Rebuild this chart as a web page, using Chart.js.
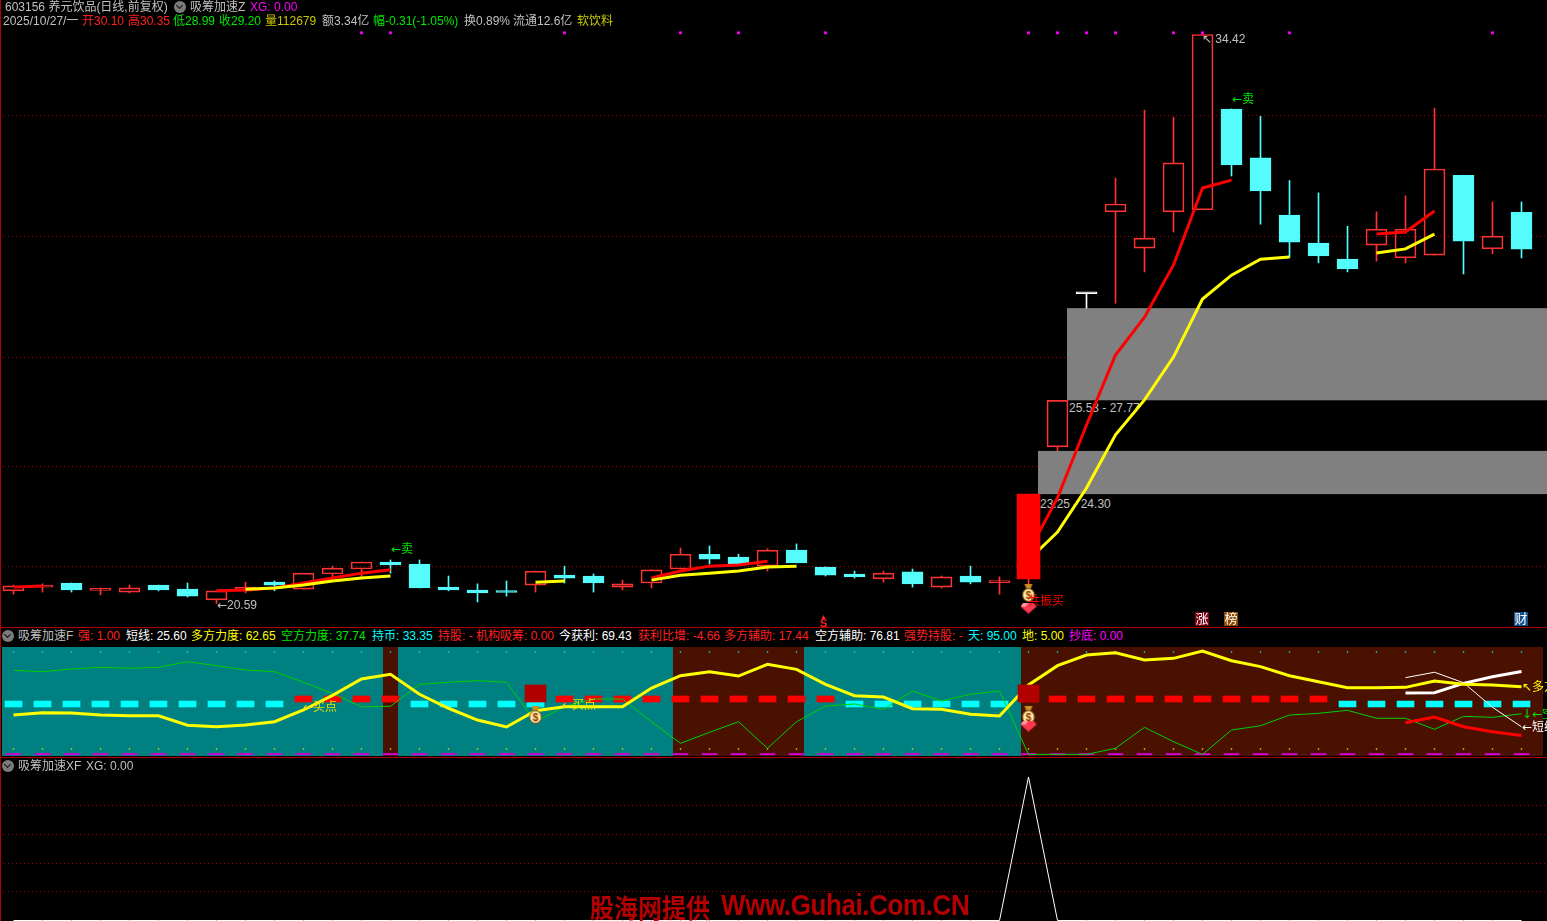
<!DOCTYPE html>
<html>
<head>
<meta charset="utf-8">
<title>603156 养元饮品</title>
<script src="https://cdn.jsdelivr.net/npm/chart.js@4"></script>
<style>
@font-face { font-family: "ArrowGlyphs"; src: local("DejaVu Sans"); unicode-range: U+2190-21FF; }
html, body { margin: 0; padding: 0; background: #000; width: 1547px; height: 921px; overflow: hidden; }
body { position: relative; font: 12px "ArrowGlyphs", "Liberation Sans", "Noto Sans CJK SC", sans-serif; }
canvas { position: absolute; left: 0; z-index: 1; }
.lbl { position: absolute; white-space: nowrap; transform: translateY(-50%); line-height: 14px; }
.under { z-index: 0; }
.over { z-index: 2; }
.rule { position: absolute; background: #b00000; z-index: 3; }
.knob { position: absolute; width: 12px; height: 12px; border-radius: 50%; background: #7c7c7c; z-index: 2; }
.knob::after { content: ""; position: absolute; left: 3px; top: 2px; width: 4px; height: 4px; border-right: 1.5px solid #111; border-bottom: 1.5px solid #111; transform: rotate(45deg); }
.tag { position: absolute; width: 14px; height: 14px; top: 612px; color: #fff; font-size: 13px; line-height: 14px; text-align: center; z-index: 2; }
.mark { position: absolute; left: 590px; top: 906px; transform: translateY(-50%) scaleY(1.1); z-index: 3; color: #b40000; font-weight: 700; white-space: nowrap; }
</style>
</head>
<body>
<canvas id="priceChart" width="1547" height="627" style="top:0"></canvas>
<canvas id="forceChart" width="1547" height="109" style="top:647px"></canvas>
<canvas id="xfChart" width="1547" height="164" style="top:757px"></canvas>
<script>
const _ = null;

// K lines
const opens = [20.90,20.99,21.09,20.91,20.87,21.04,20.94,20.68,20.90,21.11,20.94,21.31,21.43,21.60,21.55,20.99,20.92,20.88,
    21.04,21.28,21.26,20.99,21.09,21.43,21.79,21.72,21.50,21.89,21.48,21.31,21.19,21.36,20.99,21.26,21.10,21.19,
    24.40,28.12,30.11,29.23,30.11,30.16,32.61,31.42,30.03,29.35,28.96,29.30,28.99,29.06,31.00,29.21,30.10];
const highs = [21.04,21.07,21.09,20.97,21.04,21.04,21.09,20.90,21.11,21.14,21.33,21.50,21.60,21.65,21.65,21.26,21.07,21.14,
    21.38,21.50,21.31,21.16,21.41,21.94,21.99,21.79,21.92,22.04,21.48,21.38,21.38,21.43,21.26,21.50,21.24,23.25,
    25.53,28.14,30.93,32.58,32.41,34.42,32.61,32.43,30.87,30.57,29.76,30.11,30.50,32.63,31.00,30.35,30.35];
const lows = [20.82,20.87,20.87,20.80,20.85,20.90,20.75,20.59,20.85,20.90,20.94,21.16,21.24,21.33,20.97,20.90,20.63,20.77,
    20.87,21.09,20.87,20.92,20.97,21.43,21.55,21.53,21.38,21.58,21.26,21.21,21.11,20.99,20.97,21.07,20.82,21.04,
    24.30,27.77,27.89,28.65,29.62,30.16,30.98,29.81,29.00,28.87,28.65,28.91,28.87,29.06,28.60,29.09,28.99];
const closes = [21.02,21.02,20.92,20.93,20.97,20.92,20.77,20.90,20.99,21.04,21.33,21.45,21.60,21.53,20.97,20.92,20.85,20.86,
    21.38,21.21,21.09,21.07,21.41,21.79,21.67,21.53,21.89,21.58,21.28,21.24,21.33,21.07,21.24,21.11,21.12,23.25,
    25.53,28.14,30.30,29.47,31.30,34.42,31.25,30.62,29.37,29.04,28.72,29.69,29.69,31.15,29.40,29.52,29.20];
const solidDays = [35];
const whiteDays = [37];

const redMA = [20.99,21.02,_,_,_,_,_,20.90,20.92,20.97,21.09,21.21,21.33,21.41,_,_,_,_,_,_,_,_,
    21.21,21.38,21.50,21.53,21.62,_,_,_,_,_,_,_,_,
    21.84,23.16,24.93,26.63,27.55,28.82,30.69,30.88,_,_,_,_,29.57,29.62,30.13,_,_,_];
const yellowMA = [_,_,_,_,_,_,_,_,20.94,20.97,21.04,21.14,21.21,21.26,_,_,_,_,21.11,21.14,_,_,
    21.16,21.28,21.33,21.38,21.48,21.50,_,_,_,_,_,_,_,
    21.65,22.33,23.40,24.69,25.54,26.58,27.99,28.57,28.96,29.01,_,_,29.11,29.21,29.57,_,_,_];

const gridPrices = [32.44,29.50,26.56,23.91,21.48];
const bandFrom = [35,36];
const bandLow = [23.25,25.53];
const bandHigh = [24.30,27.77];
const markDays = [12,13,19,23,25,28,35,36,37,38,40,41,44,51];
const markPrice = 34.46;
const bagDays = [35];
const bagPrice = 20.85;
const gemPrice = 20.48;

// 吸筹加速F
const longForce = [36.5,38.7,38.4,36.5,35.9,35.9,27,25.7,27.3,30.3,41.2,54.8,69.9,74.3,55.8,42.8,31.9,25.4,40.5,44.2,44.2,44.2,
    61.6,73,76.7,72.7,83.6,78.9,65,54.5,53.2,42.4,41.8,37.2,35.6,
    64.4,82.3,92.2,94.3,87.6,89.1,95.9,86.9,81.4,73,67.4,61.9,61.9,62.2,68.1,65,64.4,62.65];
const shortForce = [78,76.7,79.2,80.8,79.9,80.8,86,82.3,78.3,76.7,66.9,56.7,44.2,44.6,65,66.9,68.4,66.9,30.3,44.2,51.4,51.4,
    30.3,10.3,20.5,30.3,5.7,30.3,44.9,46.8,41.8,58.8,49.5,55.8,58.8,
    0,0,0,5.7,25.1,11.8,0,22.6,26.6,36.5,38.1,40.9,33.5,33.5,23.3,35.3,34.4,37.74];
const quickLine = [_,_,_,_,_,_,_,_,_,_,_,_,_,_,_,_,_,_,_,_,_,_,_,_,_,_,_,_,_,_,_,_,_,_,_,_,_,_,_,_,_,_,_,_,_,_,_,_,71.2,76.2,66.5,43.7,25.6];
const shortHelp = [_,_,_,_,_,_,_,_,_,_,_,_,_,_,_,_,_,_,_,_,_,_,_,_,_,_,_,_,_,_,_,_,_,_,_,_,_,_,_,_,_,_,_,_,_,_,_,_,57,57.2,65.9,72.1,76.81];
const longHelp = [_,_,_,_,_,_,_,_,_,_,_,_,_,_,_,_,_,_,_,_,_,_,_,_,_,_,_,_,_,_,_,_,_,_,_,_,_,_,_,_,_,_,_,_,_,_,_,_,29.4,34.7,25.7,21.1,17.44];
const dashState = 'ccccccccccrrrrcccccrrrrrrrrrrccccccrrrrrrrrrrrccccccc'.split('');
const redDash = [48.6,54.2];
const cyanDash = [44,49.5];
const holdDays = [18,35];
const holdRange = [48.6,64.4];
const brownFrom = [12.74,22.74,34.74];
const brownTo = [13.26,27.26,52.74];
const skyLevel = 95;
const groundLevel = 5;
const floorLevel = [-0.4,0.9];
const forceBagDays = [18,35];
const forceBagLevel = 36.5;
const forceGemDays = [35];
const forceGemLevel = 26.3;

// 吸筹加速XF
const xfValues = [0,0,0,0,0,0,0,0,0,0,0,0,0,0,0,0,0,0,0,0,0,0,0,0,0,0,0,0,0,0,0,0,0,0,0,1,0,0,0,0,0,0,0,0,0,0,0,0,0,0,0,0,0];
const xfGrid = [0.2,0.4,0.6,0.8];

// header texts: x, text, colour
const GRAY = '#c0c0c0', RED = '#ff2020', GREEN = '#00e800', YELLOW = '#ffff00', OLIVE = '#c8c800', CYAN = '#00ffff', WHITE = '#ffffff', MAGENTA = '#ff00ff';
const row1 = [[5,'603156 养元饮品(日线,前复权)',GRAY],[190,'吸筹加速Z',GRAY],[250,'XG: 0.00',MAGENTA]];
const row2 = [[3,'2025/10/27/一',GRAY],[82,'开30.10',RED],[128,'高30.35',RED],[173,'低28.99',GREEN],[219,'收29.20',GREEN],
    [265,'量112679',OLIVE],[322,'额3.34亿',GRAY],[373,'幅-0.31(-1.05%)',GREEN],[464,'换0.89%',GRAY],[513,'流通12.6亿',GRAY],[577,'软饮料',OLIVE]];
const row3 = [[18,'吸筹加速F',GRAY],[78,'强: 1.00',RED],[126,'短线: 25.60',WHITE],[191,'多方力度: 62.65',YELLOW],[281,'空方力度: 37.74',GREEN],
    [372,'持币: 33.35',CYAN],[438,'持股: -',RED],[476,'机构吸筹: 0.00',RED],[559,'今获利: 69.43',WHITE],[638,'获利比增: -4.66',RED],
    [724,'多方辅助: 17.44',RED],[815,'空方辅助: 76.81',WHITE],[904,'强势持股: -',RED],[968,'天: 95.00',CYAN],[1022,'地: 5.00',YELLOW],[1069,'抄底: 0.00',MAGENTA]];
const row4 = [[18,'吸筹加速XF',GRAY],[86,'XG: 0.00',GRAY]];

function addText(x, y, str, color, layer, extra) {
    const el = document.createElement('div');
    el.className = 'lbl ' + (layer || 'over');
    el.style.left = x + 'px';
    el.style.top = y + 'px';
    el.style.color = color;
    if (extra) el.style.cssText += extra;
    el.textContent = str;
    document.body.appendChild(el);
}
function addRule(x, y, w, h) {
    const el = document.createElement('div');
    el.className = 'rule';
    el.style.cssText = `left:${x}px;top:${y}px;width:${w}px;height:${h}px`;
    document.body.appendChild(el);
}
function addKnob(x, y) {
    const el = document.createElement('div');
    el.className = 'knob';
    el.style.left = x + 'px';
    el.style.top = y + 'px';
    document.body.appendChild(el);
}
function addTag(x, str, bg) {
    const el = document.createElement('div');
    el.className = 'tag';
    el.style.left = x + 'px';
    el.style.background = bg;
    el.textContent = str;
    document.body.appendChild(el);
}

row1.forEach(r => addText(r[0], 7, r[1], r[2]));
row2.forEach(r => addText(r[0], 21, r[1], r[2]));
row3.forEach(r => addText(r[0], 636, r[1], r[2]));
row4.forEach(r => addText(r[0], 766, r[1], r[2]));
addKnob(174, 1); addKnob(2, 630); addKnob(2, 760);
addRule(0, 0, 1, 921); addRule(0, 627, 1547, 1); addRule(0, 757, 1547, 1);

addText(391, 549, '←卖', GREEN);
addText(1232, 99, '←卖', GREEN);
addText(217, 605, '←20.59', GRAY);
addText(1202, 39, '↖ 34.42', GRAY);
addText(1069, 408, '25.53 - 27.77', GRAY, 'under');
addText(1040, 504, '23.25 - 24.30', GRAY, 'under');
addText(1028, 601, '共振买', '#ff0000');
addText(820, 617, '▲', RED, 'over', 'font-size:7px');
addText(820, 623, 'S', RED, 'over', 'font-weight:700;font-size:11px');
addTag(1195, '涨', '#7a0012');
addTag(1224, '榜', '#8a4800');
addTag(1514, '财', '#14508c');

addText(303, 707, '←买点', YELLOW, 'over', 'color:#e8e000');
addText(562, 705, '←买点', YELLOW, 'over', 'color:#e8e000');
addText(1522, 687, '↖多方力度', YELLOW);
addText(1522, 714, '↓←空方力度', GREEN);
addText(1522, 727, '←短线', WHITE);

const wm1 = document.createElement('div');
wm1.className = 'mark';
wm1.style.cssText = 'font-family:"Noto Sans CJK SC";font-size:24px;';
wm1.textContent = '股海网提供';
document.body.appendChild(wm1);
const wm2 = document.createElement('div');
wm2.className = 'mark';
wm2.style.cssText = 'left:721px;font-family:"Liberation Sans";font-size:26px;letter-spacing:-0.4px;';
wm2.textContent = 'Www.Guhai.Com.CN';
document.body.appendChild(wm2);

// small bitmap markers used as point styles
function bagIcon() {
    const c = document.createElement('canvas');
    c.width = 14; c.height = 18;
    const g = c.getContext('2d');
    g.fillStyle = '#c89020'; g.beginPath(); g.moveTo(3, 0); g.lineTo(11, 0); g.lineTo(9, 5); g.lineTo(5, 5); g.fill();
    g.fillStyle = '#ffe9a0'; g.strokeStyle = '#6a4400';
    g.beginPath(); g.ellipse(7, 11, 6, 6.4, 0, 0, Math.PI * 2); g.fill(); g.stroke();
    g.fillStyle = '#903000'; g.font = 'bold 10px "Liberation Sans"'; g.textAlign = 'center'; g.fillText('$', 7, 15);
    return c;
}
function gemIcon() {
    const c = document.createElement('canvas');
    c.width = 16; c.height = 11;
    const g = c.getContext('2d');
    g.fillStyle = '#ff3850';
    g.beginPath(); g.moveTo(3, 0); g.lineTo(13, 0); g.lineTo(16, 4); g.lineTo(8, 11); g.lineTo(0, 4); g.closePath(); g.fill();
    g.fillStyle = '#ff9aa8'; g.beginPath(); g.moveTo(3, 0); g.lineTo(8, 0); g.lineTo(5, 4); g.lineTo(0, 4); g.closePath(); g.fill();
    return c;
}
const BAG = bagIcon(), GEM = gemIcon();

const DAY_W = 29, DAY0 = 13.5, PANE_W = 1547;
const xScale = { type: 'linear', display: false, offset: false, min: -DAY0 / DAY_W, max: (PANE_W - DAY0) / DAY_W };
const gridLine = { color: '#a80000', lineWidth: 1, drawTicks: false, offset: false };
function series(arr) { return arr.map((v, i) => ({ x: i, y: v })); }
function atDays(days, v) { return days.map(d => ({ x: d, y: v })); }
function fixedTicks(list) {
    return function (scale) { scale.ticks = list.map(v => ({ value: v })); };
}
function yAxis(min, max, list) {
    if (!list) return { display: false, min, max };
    return {
        min, max,
        afterBuildTicks: fixedTicks(list),
        afterFit(scale) { scale.width = 0; },
        ticks: { display: false },
        border: { display: false, dash: [1, 3] },
        grid: gridLine
    };
}
const baseOptions = {
    responsive: false,
    animation: false,
    devicePixelRatio: 1,
    layout: { padding: 0, autoPadding: false },
    plugins: { legend: { display: false }, tooltip: { enabled: false } }
};
function thickLine(arr, color, width, order) {
    return { type: 'line', data: series(arr), borderColor: color, borderWidth: width, pointRadius: 0, tension: 0, spanGaps: false, clip: false, order };
}
function barSet(data, thick, color, border, order, extra) {
    return Object.assign({ type: 'bar', data, barThickness: thick, backgroundColor: color, borderColor: border, borderWidth: 0, borderSkipped: false, grouped: false, order }, extra || {});
}

// bands sit under the candles and above the grid
const bandPlugin = {
    id: 'bands',
    beforeDatasetsDraw(chart) {
        const { ctx, scales: { x, y }, width } = chart;
        ctx.save();
        ctx.fillStyle = '#808080';
        bandFrom.forEach((d, i) => {
            const left = Math.round(x.getPixelForValue(d)) + 9;
            const top = y.getPixelForValue(bandHigh[i]);
            ctx.fillRect(left, top, width - left, y.getPixelForValue(bandLow[i]) - top);
        });
        ctx.restore();
    }
};
// teal / brown background of the F pane
const regimePlugin = {
    id: 'regime',
    beforeDatasetsDraw(chart) {
        const { ctx, scales: { x }, height } = chart;
        ctx.save();
        ctx.fillStyle = '#008080';
        ctx.fillRect(2, 0, 1541, height);
        ctx.fillStyle = '#4a1000';
        brownFrom.forEach((d, i) => {
            const left = Math.round(x.getPixelForValue(d));
            ctx.fillRect(left, 0, Math.round(x.getPixelForValue(brownTo[i])) - left, height);
        });
        ctx.restore();
    }
};

const days = opens.map((o, i) => i);
const candleColor = i => whiteDays.includes(i) ? '#ffffff' : (closes[i] >= opens[i] ? '#ff3232' : '#54fcfc');
const plainDays = days.filter(i => !solidDays.includes(i));

new Chart(document.getElementById('priceChart'), {
    data: {
        datasets: [
            barSet(days.map(i => ({ x: i, y: [Math.max(opens[i], closes[i]), highs[i]] })), 1, days.map(candleColor), 'transparent', 7),
            barSet(days.map(i => ({ x: i, y: [lows[i], Math.min(opens[i], closes[i])] })), 1, days.map(candleColor), 'transparent', 7),
            barSet(plainDays.map(i => ({ x: i, y: [opens[i], closes[i]] })), 21,
                plainDays.map(i => closes[i] >= opens[i] && !whiteDays.includes(i) ? 'transparent' : candleColor(i)),
                plainDays.map(candleColor), 6, { borderWidth: 1, minBarLength: 2 }),
            thickLine(redMA, '#ff0000', 3, 5),
            thickLine(yellowMA, '#ffff00', 3, 4),
            barSet(solidDays.map(i => ({ x: i, y: [opens[i], closes[i]] })), 23, '#ff0000', '#ff0000', 3),
            { type: 'line', data: atDays(markDays, markPrice), showLine: false, pointStyle: 'rect', pointRadius: 2, backgroundColor: '#ff00ff', borderWidth: 0, clip: false, order: 2 },
            { type: 'line', data: atDays(bagDays, bagPrice), showLine: false, pointStyle: BAG, clip: false, order: 1 },
            { type: 'line', data: atDays(bagDays, gemPrice), showLine: false, pointStyle: GEM, clip: false, order: 1 }
        ]
    },
    options: Object.assign({}, baseOptions, { scales: { x: xScale, y: yAxis(20.021, 35.258, gridPrices) } }),
    plugins: [bandPlugin]
});

new Chart(document.getElementById('forceChart'), {
    data: {
        datasets: [
            barSet(days.map(i => ({ x: i, y: floorLevel })), 15, '#d000d0', 'transparent', 10),
            { type: 'line', data: days.map(i => ({ x: i, y: skyLevel })), showLine: false, pointStyle: 'rect', pointRadius: 1, backgroundColor: '#00e0e0', borderWidth: 0, order: 10 },
            { type: 'line', data: days.map(i => ({ x: i, y: groundLevel })), showLine: false, pointStyle: 'rect', pointRadius: 1, backgroundColor: '#e0e000', borderWidth: 0, order: 10 },
            barSet(days.map(i => ({ x: i, y: dashState[i] === 'r' ? redDash : cyanDash })), 17,
                days.map(i => dashState[i] === 'r' ? '#ff0000' : '#00ffff'), 'transparent', 9),
            thickLine(shortForce, '#00d000', 1, 8),
            thickLine(quickLine, '#ffffff', 1, 7),
            thickLine(longHelp, '#ff0000', 3, 6),
            thickLine(shortHelp, '#ffffff', 3, 5),
            thickLine(longForce, '#ffff00', 3, 4),
            barSet(holdDays.map(d => ({ x: d, y: holdRange })), 21, '#b00000', 'transparent', 3),
            { type: 'line', data: atDays(forceBagDays, forceBagLevel), showLine: false, pointStyle: BAG, clip: false, order: 2 },
            { type: 'line', data: atDays(forceGemDays, forceGemLevel), showLine: false, pointStyle: GEM, clip: false, order: 1 }
        ]
    },
    options: Object.assign({}, baseOptions, { scales: { x: xScale, y: yAxis(-1.48, 99.63) } }),
    plugins: [regimePlugin]
});

new Chart(document.getElementById('xfChart'), {
    data: {
        datasets: [thickLine(xfValues, '#ffffff', 1, 1)]
    },
    options: Object.assign({}, baseOptions, { scales: { x: xScale, y: yAxis(-0.0035, 1.139, xfGrid) } })
});
</script>
</body>
</html>
